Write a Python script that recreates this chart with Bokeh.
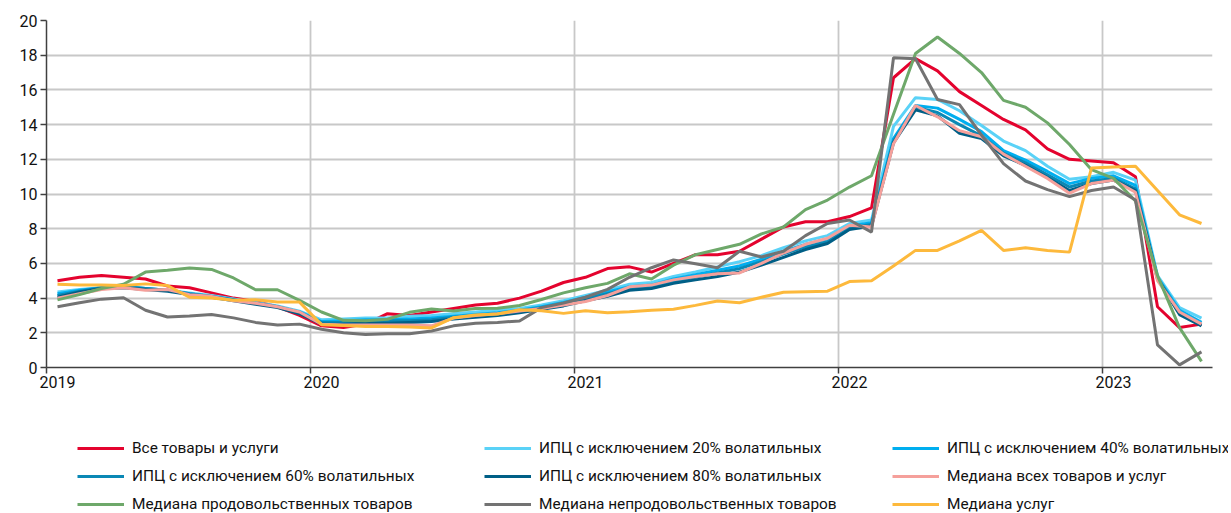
from bokeh.plotting import figure
from bokeh.models import Legend, LegendItem, FixedTicker, Range1d, LinearAxis
from bokeh.layouts import column
from bokeh.embed import file_html
from bokeh.resources import INLINE

# Monthly data, Jan 2019 .. May 2023 (year-on-year, %)
year_ticks = [0, 12, 24, 36, 48]
year_labels = ["2019", "2020", "2021", "2022", "2023"]
n_months = 53

all_goods = [5.0, 5.2, 5.3, 5.2, 5.1, 4.7, 4.6, 4.3, 4.0, 3.8, 3.5, 3.0,
             2.4, 2.3, 2.5, 3.1, 3.0, 3.2, 3.4, 3.6, 3.7, 4.0, 4.4, 4.9,
             5.2, 5.7, 5.8, 5.5, 6.0, 6.5, 6.5, 6.7, 7.4, 8.1, 8.4, 8.4,
             8.7, 9.2, 16.7, 17.8, 17.1, 15.9, 15.1, 14.3, 13.7, 12.6, 12.0, 11.9,
             11.8, 11.0, 3.5, 2.3, 2.5]
excl20 = [4.35, 4.5, 4.6, 4.65, 4.55, 4.45, 4.3, 4.15, 3.95, 3.75, 3.55, 3.25,
          2.75, 2.8, 2.85, 2.85, 2.95, 3.0, 3.1, 3.2, 3.3, 3.4, 3.6, 3.85,
          4.15, 4.45, 4.8, 4.9, 5.25, 5.5, 5.8, 6.1, 6.45, 6.9, 7.3, 7.6,
          8.3, 8.5, 13.9, 15.55, 15.45, 14.8, 13.95, 13.05, 12.5, 11.6, 10.85, 11.0,
          11.25, 10.8, 5.3, 3.45, 2.85]
excl40 = [4.25, 4.45, 4.6, 4.65, 4.55, 4.45, 4.25, 4.1, 3.9, 3.7, 3.5, 3.2,
          2.65, 2.7, 2.75, 2.75, 2.8, 2.85, 2.95, 3.05, 3.15, 3.3, 3.5, 3.75,
          4.05, 4.35, 4.65, 4.75, 5.1, 5.35, 5.6, 5.85, 6.25, 6.7, 7.1, 7.4,
          8.15, 8.35, 13.2, 15.1, 14.95, 14.3, 13.6, 12.5, 11.95, 11.3, 10.6, 10.9,
          11.05, 10.5, 5.2, 3.3, 2.6]
excl60 = [4.15, 4.4, 4.6, 4.65, 4.55, 4.45, 4.25, 4.1, 3.9, 3.7, 3.5, 3.15,
          2.6, 2.6, 2.65, 2.7, 2.7, 2.75, 2.9, 3.0, 3.1, 3.25, 3.45, 3.65,
          3.95, 4.25, 4.55, 4.65, 4.95, 5.2, 5.45, 5.7, 6.1, 6.55, 6.95, 7.25,
          8.05, 8.25, 13.05, 15.0, 14.7, 14.0, 13.35, 12.35, 11.8, 11.1, 10.4, 10.75,
          10.9, 10.3, 5.15, 3.15, 2.45]
excl80 = [4.05, 4.35, 4.55, 4.6, 4.5, 4.4, 4.2, 4.05, 3.85, 3.65, 3.45, 3.1,
          2.5, 2.5, 2.55, 2.55, 2.6, 2.65, 2.8, 2.9, 3.0, 3.15, 3.35, 3.55,
          3.85, 4.1, 4.45, 4.55, 4.85, 5.05, 5.25, 5.5, 5.9, 6.35, 6.8, 7.15,
          7.95, 8.15, 12.95, 14.85, 14.5, 13.5, 13.2, 12.2, 11.65, 10.95, 10.2, 10.6,
          10.8, 10.2, 5.1, 3.05, 2.4]
median_all = [4.0, 4.25, 4.5, 4.6, 4.45, 4.5, 4.2, 4.1, 3.85, 3.7, 3.5, 3.2,
              2.5, 2.45, 2.45, 2.45, 2.45, 2.4, 2.85, 3.0, 3.1, 3.25, 3.4, 3.6,
              3.8, 4.15, 4.65, 4.75, 5.05, 5.25, 5.4, 5.45, 6.0, 6.6, 7.1, 7.45,
              8.2, 8.1, 12.9, 15.1, 14.45, 13.65, 13.3, 12.3, 11.6, 10.9, 10.05, 10.6,
              10.8, 10.1, 5.0, 3.2, 2.5]
median_food = [3.9, 4.2, 4.55, 4.8, 5.5, 5.6, 5.73, 5.65, 5.16, 4.48, 4.48, 3.87,
               3.2, 2.72, 2.7, 2.78, 3.18, 3.37, 3.25, 3.4, 3.42, 3.57, 3.92, 4.3,
               4.6, 4.85, 5.4, 5.1, 5.9, 6.5, 6.8, 7.1, 7.7, 8.1, 9.1, 9.65,
               10.4, 11.05, 14.6, 18.1, 19.05, 18.1, 17.0, 15.4, 15.0, 14.1, 12.85, 11.4,
               10.9, 9.6, 5.3, 2.3, 0.35]
median_nonfood = [3.5, 3.73, 3.94, 4.02, 3.3, 2.91, 2.97, 3.05, 2.86, 2.6, 2.45, 2.5,
                  2.2, 2.0, 1.9, 1.95, 1.95, 2.1, 2.4, 2.55, 2.6, 2.68, 3.45, 3.72,
                  4.05, 4.5, 5.2, 5.75, 6.2, 5.98, 5.75, 6.7, 6.37, 6.7, 7.6, 8.3,
                  8.5, 7.8, 17.85, 17.8, 15.45, 15.15, 13.4, 11.75, 10.75, 10.25, 9.85, 10.2,
                  10.4, 9.65, 1.3, 0.15, 0.9]
median_services = [4.8, 4.75, 4.75, 4.72, 4.82, 4.72, 4.05, 4.0, 3.87, 3.9, 3.78, 3.77,
                   2.47, 2.42, 2.37, 2.36, 2.33, 2.28, 2.87, 3.03, 3.08, 3.33, 3.27, 3.12,
                   3.27, 3.15, 3.22, 3.3, 3.36, 3.58, 3.83, 3.73, 4.05, 4.34, 4.37, 4.4,
                   4.95, 5.0, 5.85, 6.75, 6.75, 7.3, 7.9, 6.75, 6.9, 6.75, 6.65, 11.5,
                   11.55, 11.6, 10.2, 8.8, 8.3]

labels = ["Все товары и услуги",
          "ИПЦ с исключением 20% волатильных",
          "ИПЦ с исключением 40% волатильных",
          "ИПЦ с исключением 60% волатильных",
          "ИПЦ с исключением 80% волатильных",
          "Медиана всех товаров и услуг",
          "Медиана продовольственных товаров",
          "Медиана непродовольственных товаров",
          "Медиана услуг"]
series = [all_goods, excl20, excl40, excl60, excl80, median_all,
          median_food, median_nonfood, median_services]
colors = ["#E4032E", "#5AD2F7", "#00AEEF", "#0A88B5", "#005F86", "#F5A09B",
          "#6EA86A", "#737373", "#FDB93C"]

x = [i + 0.5 for i in range(n_months)]

FONT = "Roboto"
W = 1215

p = figure(width=W, height=400, output_backend="svg", toolbar_location=None,
           x_range=Range1d(0, 53), y_range=Range1d(0, 20),
           min_border_left=46, min_border_right=3, min_border_top=20,
           min_border_bottom=33)
p.outline_line_color = None

# year boundary ticks (no labels)
xa = p.xaxis[0]
xa.ticker = FixedTicker(ticks=year_ticks)
xa.major_label_overrides = {t: "" for t in year_ticks}
xa.major_label_standoff = 0
# year labels centred on the January point
xl = LinearAxis(ticker=FixedTicker(ticks=[t + 0.5 for t in year_ticks]),
                major_label_overrides={t + 0.5: l for t, l in zip(year_ticks, year_labels)})
xl.axis_line_color = None
xl.major_tick_line_color = None
xl.minor_tick_line_color = None
xl.major_tick_out = 0
xl.major_tick_in = 0
xl.major_label_standoff = 2
xl.major_label_text_font = FONT
xl.major_label_text_font_size = "16px"
xl.major_label_text_color = "#111111"
p.add_layout(xl, "below")

p.yaxis.ticker = FixedTicker(ticks=list(range(0, 21, 2)))
for ax in (xa, p.yaxis[0]):
    ax.axis_line_color = "#404040"
    ax.axis_line_width = 1.5
    ax.major_tick_line_color = "#404040"
    ax.major_tick_line_width = 1.5
    ax.major_tick_out = 6
    ax.major_tick_in = 0
    ax.minor_tick_line_color = None
    ax.major_label_text_font = FONT
    ax.major_label_text_font_size = "16px"
    ax.major_label_text_color = "#111111"
p.yaxis.major_label_standoff = 3

p.xgrid.ticker = FixedTicker(ticks=year_ticks)
p.ygrid.ticker = FixedTicker(ticks=list(range(0, 21, 2)))
p.xgrid.grid_line_color = "#C8C8C8"
p.ygrid.grid_line_color = "#C8C8C8"
p.xgrid.grid_line_width = 1.8
p.ygrid.grid_line_width = 1.8

for vals, col in zip(series, colors):
    p.line(x, vals, line_color=col, line_width=3)

# legend panel below the chart (its copies of the series lie outside its view)
pl = figure(width=1231, height=113, output_backend="svg", toolbar_location=None,
            x_range=Range1d(0, 53), y_range=Range1d(100, 120),
            x_axis_location=None, y_axis_location=None, min_border=0)
pl.outline_line_color = None
pl.xgrid.visible = False
pl.ygrid.visible = False

leg_renderers = [pl.line(x, vals, line_color=col, line_width=3)
                 for vals, col in zip(series, colors)]
items = [LegendItem(label=lab, renderers=[r]) for lab, r in zip(labels, leg_renderers)]

col_x = [31, 438, 846]
for c in range(3):
    lg = Legend(items=items[c::3], location=(col_x[c], -1),
                orientation="vertical",
                label_text_font=FONT, label_text_font_size="15.4px",
                label_text_color="#111111",
                glyph_width=47, glyph_height=20, label_height=20,
                label_standoff=8, spacing=8, padding=0, margin=0,
                border_line_color=None, background_fill_alpha=0)
    pl.add_layout(lg, "center")

layout = column(p, pl, spacing=0)
open("out.html", "w").write(file_html(layout, INLINE))
